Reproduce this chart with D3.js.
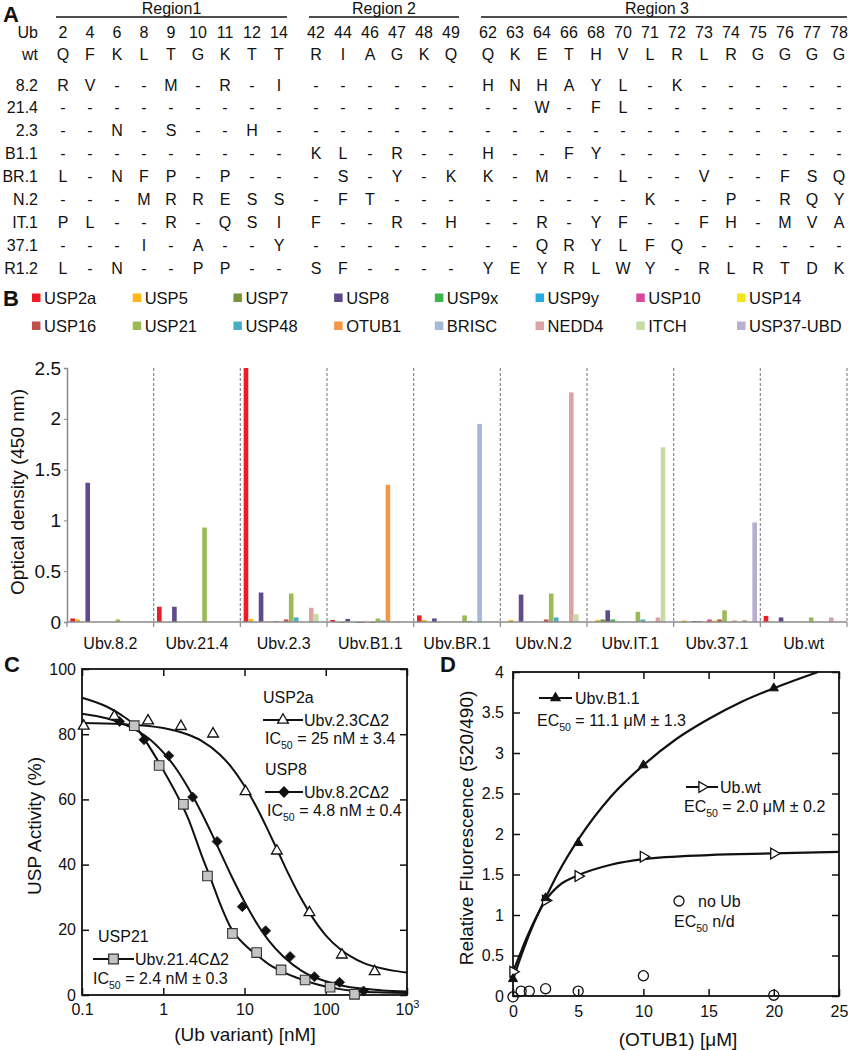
<!DOCTYPE html>
<html><head><meta charset="utf-8">
<script src="https://cdn.jsdelivr.net/npm/d3@7"></script>
<style>
body{margin:0;background:#fff}
svg{display:block}
text{font-family:"Liberation Sans",Arial,Helvetica,sans-serif;fill:#111}
</style>
</head><body>
<svg id="fig" width="848" height="1050"></svg>
<script>
// ---------------- Panel A data ----------------
const regionNames = ["Region1", "Region 2", "Region 3"];
const region1Pos = [2, 4, 6, 8, 9, 10, 11, 12, 14];
const region2Pos = [42, 44, 46, 47, 48, 49];
const region3Pos = [62, 63, 64, 66, 68, 70, 71, 72, 73, 74, 75, 76, 77, 78];
const wtResidues = ["QFKLTGKTT", "RIAGKQ", "QKETHVLRLRGGGG"];
const variantNames = ["8.2", "21.4", "2.3", "B1.1", "BR.1", "N.2", "IT.1", "37.1", "R1.2"];
const variantSeqs = [
  ["RV--M-R-I", "------", "HNHAYL-K------"],
  ["---------", "------", "--W-FL--------"],
  ["--N-S--H-", "------", "--------------"],
  ["---------", "KL-R--", "H--FY---------"],
  ["L-NFP-P--", "-S-Y-K", "K-M--L--V--FSQ"],
  ["---MRRESS", "-FT---", "------K--P-RQY"],
  ["PL--R-QSI", "F--R-H", "--R-YF--FH-MVA"],
  ["---I-A--Y", "------", "--QRYLFQ------"],
  ["L-N--PP--", "SF----", "YEYRLWY-RLRTDK"]
];

// ---------------- Panel B data ----------------
const groups = ["Ubv.8.2", "Ubv.21.4", "Ubv.2.3", "Ubv.B1.1", "Ubv.BR.1", "Ubv.N.2", "Ubv.IT.1", "Ubv.37.1", "Ub.wt"];
const seriesNames = ["USP2a", "USP5", "USP7", "USP8", "USP9x", "USP9y", "USP10", "USP14",
                     "USP16", "USP21", "USP48", "OTUB1", "BRISC", "NEDD4", "ITCH", "USP37-UBD"];
const seriesColors = ["#ed1c24", "#fdb813", "#77933c", "#5f4a8b", "#39b54a", "#27aae1", "#d9489b", "#f2e61a",
                      "#c0504d", "#9bbb59", "#4bacc6", "#f79646", "#a4b8dc", "#dba3a3", "#c8dba6", "#b8aed1"];
const odValues = [
  [0.035, 0.15, 2.5, 0.02, 0.065, 0, 0, 0, 0.06],        // USP2a
  [0.025, 0, 0.03, -0.005, 0.02, 0.02, 0.02, 0.015, 0],  // USP5
  [0, 0, 0, -0.01, 0, 0, 0.025, 0, 0],                   // USP7
  [1.37, 0.15, 0.29, 0.03, 0.035, 0.27, 0.115, 0.01, 0.045], // USP8
  [0, 0, 0, 0, 0, 0, 0.025, 0.01, 0],                    // USP9x
  [0, 0, 0, -0.01, 0, 0, 0, 0, 0],                       // USP9y
  [0, 0, 0.01, -0.01, 0, 0, 0, 0.025, 0],                // USP10
  [0, 0, 0, 0, 0.005, 0, 0, 0.015, 0],                   // USP14
  [0, 0, 0.025, -0.01, 0, 0.025, 0, 0.025, 0],           // USP16
  [0.025, 0.93, 0.28, 0.035, 0.065, 0.28, 0.1, 0.115, 0.045], // USP21
  [0, 0, 0.045, 0.015, 0.01, 0.045, 0.025, 0, 0],        // USP48
  [0, 0, 0, 1.35, 0, 0, 0, 0.015, 0],                    // OTUB1
  [0, 0, 0, 0, 1.95, 0, 0, 0, 0],                        // BRISC
  [0, 0, 0.14, -0.005, 0, 2.26, 0.045, 0.02, 0.045],     // NEDD4
  [0, 0, 0.08, 0, 0, 0.075, 1.72, 0, 0],                 // ITCH
  [0, 0, 0, 0, 0, 0, 0, 0.98, 0]                         // USP37-UBD
];
const odTicks = [0, 0.5, 1, 1.5, 2, 2.5];

// ---------------- Panel C data ----------------
const usp2aConc = [0.105, 0.25, 0.65, 1.65, 4.1, 10.3, 25, 63, 158, 400];
const usp2aAct  = [82.5, 85.5, 84.1, 82.4, 80.1, 62.4, 44.2, 25.3, 12.3, 7.2];
const usp8Conc  = [0.29, 0.58, 1.17, 2.3, 4.6, 9.4, 18.2, 36.4, 72.6, 148, 292];
const usp8Act   = [83.9, 78.3, 73.4, 60.7, 47.1, 27.1, 19.7, 11.8, 5.6, 3.9, 1.2];
const usp21Conc = [0.44, 0.89, 1.77, 3.5, 7.1, 14.1, 28.2, 55.7, 113, 226];
const usp21Act  = [82.6, 70.4, 58.5, 36.5, 18.9, 13.0, 7.7, 4.6, 2.4, 0.2];
const usp2aFitConc = [0.1, 0.3, 1, 2, 3, 5, 7, 10, 15, 20, 25, 35, 50, 70, 100, 150, 200, 300, 500, 700, 1000];
const usp2aFitAct  = [83.4, 83.1, 81.9, 79.9, 77.9, 73.7, 69.7, 64.1, 56.3, 49.9, 44.8, 37.0, 29.5, 23.5, 18.3, 14.1, 11.9, 9.7, 8.1, 7.4, 6.9];
const usp8FitConc = [0.1, 0.2, 0.3, 0.5, 0.7, 1, 1.5, 2, 3, 4, 5, 7, 10, 15, 20, 30, 50, 70, 100, 150, 200, 300, 500, 1000];
const usp8FitAct  = [86.3, 84.9, 83.5, 80.8, 78.2, 74.4, 68.8, 63.8, 55.6, 49.2, 44.0, 36.2, 28.6, 21.0, 16.6, 11.8, 7.5, 5.6, 4.2, 3.0, 2.4, 1.9, 1.4, 1.1];
const usp21FitConc = [0.1, 0.2, 0.3, 0.44, 0.7, 1, 1.5, 2, 3, 4, 5, 7, 10, 15, 20, 30, 50, 70, 100, 150, 200, 300, 500, 1000];
const usp21FitAct  = [91.2, 88.5, 86, 82.8, 75.5, 69, 61, 54.5, 42.5, 34.5, 28, 20, 15.5, 11.8, 9.4, 7.0, 4.8, 3.6, 2.6, 1.8, 1.4, 1.0, 0.8, 0.6];
const cXTicks = [0.1, 1, 10, 100, 1000];
const cYTicks = [0, 20, 40, 60, 80, 100];

// ---------------- Panel D data ----------------
const b11Conc = [0, 2.5, 5, 10, 20];
const b11Fl   = [0.21, 1.21, 1.89, 2.85, 3.80];
const wtConc  = [0, 2.5, 5, 10, 20];
const wtFl    = [0.30, 1.18, 1.48, 1.72, 1.76];
const noUbConc = [0, 0.625, 1.25, 2.5, 5, 10, 20];
const noUbFl   = [-0.01, 0.06, 0.06, 0.09, 0.06, 0.25, 0.01];
const b11FitConc = [0, 0.5, 1, 1.5, 2, 2.5, 3.5, 5, 7.5, 10, 12.5, 15, 17.5, 20, 23.4];
const b11FitFl   = [0.2, 0.44, 0.66, 0.86, 1.04, 1.21, 1.53, 1.93, 2.46, 2.85, 3.17, 3.42, 3.63, 3.8, 4.0];
const wtFitConc = [0, 0.5, 1, 1.5, 2, 2.5, 3.5, 5, 7.5, 10, 15, 20, 25];
const wtFitFl   = [0.3, 0.5, 0.7, 0.88, 1.04, 1.18, 1.36, 1.49, 1.62, 1.69, 1.74, 1.76, 1.78];
const dXTicks = [0, 5, 10, 15, 20, 25];
const dYTicks = [0, 0.5, 1, 1.5, 2, 2.5, 3, 3.5, 4];

// =================================================
const svg = d3.select("#fig");
svg.append("rect").attr("width", 848).attr("height", 1050).attr("fill", "#fff");

function panelLetter(t, x, y) {
  svg.append("text").attr("x", x).attr("y", y).attr("font-size", 22).attr("font-weight", "bold").text(t);
}

// ---------------- Panel A ----------------
panelLetter("A", 3, 22);
const gA = svg.append("g").attr("font-size", 16);
const regionPositions = [region1Pos, region2Pos, region3Pos];
const cols = [];
regionPositions.forEach((arr, r) => arr.forEach((p, j) => cols.push({ r, j, p, k: cols.length })));
const gapUnits = 0.37;
const colX = d3.scaleLinear().domain([0, cols.length - 1 + 2 * gapUnits]).range([63, 839]);
const cx = c => colX(c.k + c.r * gapUnits);
const rowY = d3.scaleLinear().domain([0, variantNames.length - 1]).range([90.5, 273.5]);

regionNames.forEach((name, r) => {
  const rc = cols.filter(c => c.r === r);
  const x0 = cx(rc[0]) - 7, x1 = Math.min(cx(rc[rc.length - 1]) + 8, 847);
  gA.append("line").attr("x1", x0).attr("x2", x1).attr("y1", 17).attr("y2", 17)
    .attr("stroke", "#111").attr("stroke-width", 1.6);
  gA.append("text").attr("x", (x0 + x1) / 2 - (r === 2 ? 7 : 0)).attr("y", 14).attr("text-anchor", "middle").text(name);
});
gA.append("text").attr("x", 38).attr("y", 38).attr("text-anchor", "end").text("Ub");
gA.append("text").attr("x", 38).attr("y", 60).attr("text-anchor", "end").text("wt");
cols.forEach(c => {
  gA.append("text").attr("x", cx(c)).attr("y", 38).attr("text-anchor", "middle").text(c.p);
  gA.append("text").attr("x", cx(c)).attr("y", 60).attr("text-anchor", "middle").text(wtResidues[c.r][c.j]);
});
variantNames.forEach((v, i) => {
  gA.append("text").attr("x", 38).attr("y", rowY(i)).attr("text-anchor", "end").text(v);
  cols.forEach(c => {
    gA.append("text").attr("x", cx(c)).attr("y", rowY(i)).attr("text-anchor", "middle")
      .text(variantSeqs[i][c.r][c.j]);
  });
});

// ---------------- Panel B ----------------
panelLetter("B", 3, 306);
const legX = d3.scaleLinear().domain([0, 7]).range([32, 737]);
seriesNames.forEach((s, i) => {
  const col = i % 8, row = Math.floor(i / 8);
  const y = 298 + row * 28;
  svg.append("rect").attr("x", legX(col)).attr("y", y - 4.5).attr("width", 8.5).attr("height", 8.5).attr("fill", seriesColors[i]);
  svg.append("text").attr("x", legX(col) + 12).attr("y", y + 6).attr("font-size", 16.5).text(s);
});

const xG = d3.scaleBand().domain(groups).range([67, 847]).padding(0);
const xS = d3.scaleBand().domain(seriesNames).range([0, xG.bandwidth()]).paddingOuter(0.667).paddingInner(0.08);
const yB = d3.scaleLinear().domain([0, 2.5]).range([622, 368]);

const gB = svg.append("g");
const bounds = groups.map(g => xG(g) + xG.bandwidth());
gB.selectAll("line.sep").data(bounds).join("line")
  .attr("x1", d => d).attr("x2", d => d).attr("y1", yB(2.5)).attr("y2", yB(0))
  .attr("stroke", "#8a8a8a").attr("stroke-width", 1.2).attr("stroke-dasharray", "3,2");
gB.selectAll("line.tk").data([67].concat(bounds)).join("line")
  .attr("x1", d => d).attr("x2", d => d).attr("y1", yB(0)).attr("y2", yB(0) + 5)
  .attr("stroke", "#8a8a8a").attr("stroke-width", 1.2);
seriesNames.forEach((s, si) => {
  gB.selectAll(null).data(groups.map((g, gi) => ({ g, v: odValues[si][gi] })).filter(d => d.v !== 0)).join("rect")
    .attr("x", d => xG(d.g) + xS(s)).attr("width", xS.bandwidth())
    .attr("y", d => yB(Math.max(d.v, 0))).attr("height", d => Math.abs(yB(d.v) - yB(0)))
    .attr("fill", seriesColors[si]);
});
const yAxisB = d3.axisLeft(yB).tickValues(odTicks).tickFormat(d3.format("~g")).tickSize(3).tickPadding(3);
const gyB = gB.append("g").attr("transform", "translate(67,0)").call(yAxisB);
gyB.select(".domain").attr("stroke", "#8a8a8a").attr("stroke-width", 1.5);
gyB.selectAll(".tick line").attr("stroke", "#8a8a8a");
gyB.selectAll(".tick text").attr("font-size", 19).attr("fill", "#111").attr("font-family", null);
gB.append("line").attr("x1", 67).attr("x2", 847).attr("y1", yB(0)).attr("y2", yB(0))
  .attr("stroke", "#8a8a8a").attr("stroke-width", 1.5);
groups.forEach(g => {
  gB.append("text").attr("x", xG(g) + xG.bandwidth() / 2).attr("y", 649).attr("text-anchor", "middle")
    .attr("font-size", 16).text(g);
});
gB.append("text").attr("transform", "translate(24,492) rotate(-90)").attr("text-anchor", "middle")
  .attr("font-size", 19).text("Optical density (450 nm)");

// ---------------- helpers for C / D ----------------
function boxAxes(g, x, y, xt, yt, xfmt, yfmt, xpad, ypad) {
  const [x0, x1] = x.range(), [y0, y1] = y.range();
  const ax = [
    g.append("g").attr("transform", `translate(0,${y0})`).call(d3.axisBottom(x).tickValues(xt).tickSize(-7).tickPadding(xpad).tickFormat(xfmt)),
    g.append("g").attr("transform", `translate(0,${y1})`).call(d3.axisTop(x).tickValues(xt).tickSize(-7).tickFormat("")),
    g.append("g").attr("transform", `translate(${x0},0)`).call(d3.axisLeft(y).tickValues(yt).tickSize(-7).tickPadding(ypad).tickFormat(yfmt)),
    g.append("g").attr("transform", `translate(${x1},0)`).call(d3.axisRight(y).tickValues(yt).tickSize(-7).tickFormat(""))
  ];
  ax.forEach(a => {
    a.select(".domain").remove();
    a.selectAll(".tick line").attr("stroke", "#111").attr("stroke-width", 1.5);
    a.selectAll(".tick text").attr("font-size", 16).attr("fill", "#111").attr("font-family", null);
  });
  g.append("rect").attr("x", x0).attr("y", y1).attr("width", x1 - x0).attr("height", y0 - y1)
    .attr("fill", "none").attr("stroke", "#111").attr("stroke-width", 1.8);
  return ax;
}
function subText(g, x, y, pre, sub, post) {
  const t = g.append("text").attr("x", x).attr("y", y).attr("font-size", 16);
  t.append("tspan").text(pre);
  t.append("tspan").attr("font-size", 10.5).attr("dy", 5).text(sub);
  t.append("tspan").attr("dy", -5).text(post);
}
const triPath = d3.symbol().type(d3.symbolTriangle).size(50)();
const triSmall = d3.symbol().type(d3.symbolTriangle).size(36)();
const diamondPath = "M0,-5L5,0L0,5L-5,0Z";
const squarePath = "M-4.8,-4.8H4.8V4.8H-4.8Z";

// ---------------- Panel C ----------------
panelLetter("C", 4, 672);
const xC = d3.scaleLog().domain([0.1, 1000]).range([82, 407]);
const yC = d3.scaleLinear().domain([0, 100]).range([995, 669]);
const gC = svg.append("g");
const axC = boxAxes(gC, xC, yC, cXTicks, cYTicks, d => (d === 1000 ? "" : d3.format("~g")(d)), d3.format("d"), 9, 6);
axC[0].selectAll(".tick text").filter(d => d === 1000).each(function () {
  const t = d3.select(this);
  t.append("tspan").text("10");
  t.append("tspan").attr("dy", -7).attr("font-size", 11).text("3");
});
const lineC = d3.line().x(d => xC(d[0])).y(d => yC(d[1])).curve(d3.curveMonotoneX);
[[usp2aFitConc, usp2aFitAct], [usp8FitConc, usp8FitAct], [usp21FitConc, usp21FitAct]].forEach(([cs, vs]) => {
  gC.append("path").attr("d", lineC(cs.map((c, i) => [c, vs[i]]))).attr("fill", "none")
    .attr("stroke", "#111").attr("stroke-width", 2);
});
function markers(g, xs, ys, xsc, ysc, path, fill, stroke, sw, rot) {
  g.selectAll(null).data(xs.map((c, i) => [c, ys[i]])).join("path")
    .attr("d", path).attr("transform", d => `translate(${xsc(d[0])},${ysc(d[1])})${rot ? " rotate(" + rot + ")" : ""}`)
    .attr("fill", fill).attr("stroke", stroke).attr("stroke-width", sw);
}
markers(gC, usp21Conc, usp21Act, xC, yC, squarePath, "#c4c4c4", "#333", 1.1);
markers(gC, usp8Conc, usp8Act, xC, yC, diamondPath, "#111", "#111", 0.8);
markers(gC, usp2aConc, usp2aAct, xC, yC, triPath, "#fff", "#111", 1.3);

gC.append("text").attr("x", 245).attr("y", 1041).attr("text-anchor", "middle").attr("font-size", 19).text("(Ub variant) [nM]");
gC.append("text").attr("transform", "translate(41,826) rotate(-90)").attr("text-anchor", "middle").attr("font-size", 19).text("USP Activity (%)");

function legendLine(g, x1, x2, y, path, fill, stroke, rot) {
  g.append("line").attr("x1", x1).attr("x2", x2).attr("y1", y).attr("y2", y).attr("stroke", "#111").attr("stroke-width", 2);
  g.append("path").attr("d", path).attr("transform", `translate(${(x1 + x2) / 2},${y})${rot ? " rotate(" + rot + ")" : ""}`)
    .attr("fill", fill).attr("stroke", stroke).attr("stroke-width", 1.3);
}
gC.append("text").attr("x", 263).attr("y", 703).attr("font-size", 16).text("USP2a");
legendLine(gC, 263, 303, 720, triPath, "#fff", "#111");
gC.append("text").attr("x", 304).attr("y", 726).attr("font-size", 16).text("Ubv.2.3CΔ2");
subText(gC, 265, 744, "IC", "50", " = 25 nM ± 3.4");
gC.append("text").attr("x", 265).attr("y", 775).attr("font-size", 16).text("USP8");
legendLine(gC, 265, 303, 792, diamondPath, "#111", "#111");
gC.append("text").attr("x", 304).attr("y", 798).attr("font-size", 16).text("Ubv.8.2CΔ2");
subText(gC, 267, 816, "IC", "50", " = 4.8 nM ± 0.4");
gC.append("text").attr("x", 98).attr("y", 942).attr("font-size", 16).text("USP21");
legendLine(gC, 93, 134, 959, squarePath, "#c4c4c4", "#333");
gC.append("text").attr("x", 135).attr("y", 965).attr("font-size", 16).text("Ubv.21.4CΔ2");
subText(gC, 93, 984, "IC", "50", " = 2.4 nM ± 0.3");

// ---------------- Panel D ----------------
panelLetter("D", 440, 672);
const xD = d3.scaleLinear().domain([0, 25]).range([513, 839]);
const yD = d3.scaleLinear().domain([0, 4]).range([996, 672]);
const gD = svg.append("g");
boxAxes(gD, xD, yD, dXTicks, dYTicks, d3.format("d"), d3.format("~g"), 10, 9);
const lineD = d3.line().x(d => xD(d[0])).y(d => yD(d[1])).curve(d3.curveMonotoneX);
[[b11FitConc, b11FitFl], [wtFitConc, wtFitFl]].forEach(([cs, vs]) => {
  gD.append("path").attr("d", lineD(cs.map((c, i) => [c, vs[i]]))).attr("fill", "none")
    .attr("stroke", "#111").attr("stroke-width", 2.2);
});
markers(gD, noUbConc, noUbFl, xD, yD, d3.symbol().type(d3.symbolCircle).size(80)(), "none", "#111", 1.3);
markers(gD, wtConc, wtFl, xD, yD, triPath, "#fff", "#111", 1.3, 90);
markers(gD, b11Conc, b11Fl, xD, yD, triSmall, "#111", "#111", 1);

gD.append("text").attr("x", 678).attr("y", 1046).attr("text-anchor", "middle").attr("font-size", 19).text("(OTUB1) [μM]");
gD.append("text").attr("transform", "translate(473,828) rotate(-90)").attr("text-anchor", "middle").attr("font-size", 19).text("Relative Fluorescence (520/490)");

legendLine(gD, 539, 572, 698, triSmall, "#111", "#111");
gD.append("text").attr("x", 575).attr("y", 704).attr("font-size", 16).text("Ubv.B1.1");
subText(gD, 537, 726, "EC", "50", " = 11.1 μM ± 1.3");
legendLine(gD, 686, 718, 787, triPath, "#fff", "#111", 90);
gD.append("text").attr("x", 720).attr("y", 793).attr("font-size", 16).text("Ub.wt");
subText(gD, 684, 812, "EC", "50", " = 2.0 μM ± 0.2");
gD.append("circle").attr("cx", 679).attr("cy", 901).attr("r", 5).attr("fill", "none").attr("stroke", "#111").attr("stroke-width", 1.3);
gD.append("text").attr("x", 698).attr("y", 907).attr("font-size", 16).text("no Ub");
subText(gD, 674, 927, "EC", "50", " n/d");
</script>
</body></html>
